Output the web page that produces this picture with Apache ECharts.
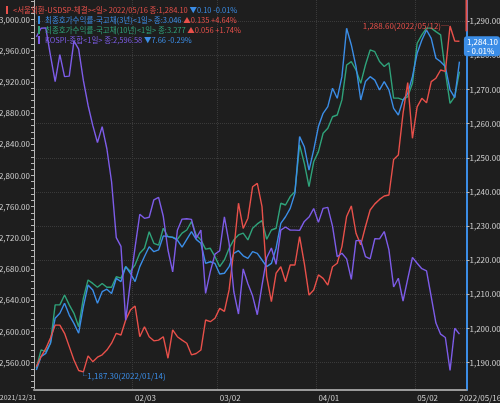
<!DOCTYPE html>
<html>
<head>
<meta charset="utf-8">
<script src="https://cdn.jsdelivr.net/npm/echarts@6/dist/echarts.min.js"></script>
<style>
html, body { margin: 0; padding: 0; background: #1e1e1e; }
#chart { width: 500px; height: 403px; }
</style>
</head>
<body>
<div id="chart"></div>
<script>
// 거래일 (첫 칸은 시작일 표시용)
const dates = [
  '2021/12/31',
  '2022/01/03', '2022/01/04', '2022/01/05', '2022/01/06', '2022/01/07', '2022/01/10', '2022/01/11', '2022/01/12', '2022/01/13', '2022/01/14',
  '2022/01/17', '2022/01/18', '2022/01/19', '2022/01/20', '2022/01/21', '2022/01/24', '2022/01/25', '2022/01/26', '2022/01/27', '2022/01/28',
  '2022/02/03', '2022/02/04', '2022/02/07', '2022/02/08', '2022/02/09', '2022/02/10', '2022/02/11', '2022/02/14', '2022/02/15', '2022/02/16',
  '2022/02/17', '2022/02/18', '2022/02/21', '2022/02/22', '2022/02/23', '2022/02/24', '2022/02/25', '2022/02/28',
  '2022/03/02', '2022/03/03', '2022/03/04', '2022/03/07', '2022/03/08', '2022/03/10', '2022/03/11', '2022/03/14', '2022/03/15', '2022/03/16',
  '2022/03/17', '2022/03/18', '2022/03/21', '2022/03/22', '2022/03/23', '2022/03/24', '2022/03/25', '2022/03/28', '2022/03/29', '2022/03/30', '2022/03/31',
  '2022/04/01', '2022/04/04', '2022/04/05', '2022/04/06', '2022/04/07', '2022/04/08', '2022/04/11', '2022/04/12', '2022/04/13', '2022/04/14',
  '2022/04/15', '2022/04/18', '2022/04/19', '2022/04/20', '2022/04/21', '2022/04/22', '2022/04/25', '2022/04/26', '2022/04/27', '2022/04/28', '2022/04/29',
  '2022/05/02', '2022/05/03', '2022/05/04', '2022/05/06', '2022/05/09', '2022/05/10', '2022/05/11', '2022/05/12', '2022/05/13', '2022/05/16'
]

// 서울외환 USD/KRW
const usdkrw = [
  1188.8,
  1191.8, 1194.1, 1197.2, 1201.0, 1201.0, 1198.6, 1194.7, 1190.8, 1187.7, 1187.3,
  1192.0, 1190.3, 1191.6, 1192.3, 1193.7, 1195.7, 1198.6, 1198.1, 1202.5, 1205.4,
  1206.6, 1197.6, 1200.5, 1197.6, 1196.4, 1196.6, 1197.6, 1191.3, 1199.6, 1197.6,
  1196.6, 1195.7, 1192.3, 1192.7, 1193.7, 1202.5, 1202.0, 1203.0,
  1205.9, 1205.0, 1211.3, 1223.0, 1236.7, 1229.3, 1232.3, 1241.5, 1242.5, 1235.7,
  1215.2, 1207.9, 1216.2, 1218.1, 1213.7, 1218.6, 1218.6, 1226.9, 1219.1, 1209.8, 1211.3,
  1215.7, 1214.7, 1212.7, 1218.1, 1219.1, 1224.0, 1232.8, 1235.9, 1227.9, 1224.5,
  1229.8, 1234.7, 1236.5, 1237.8, 1238.8, 1239.1, 1249.5, 1250.8, 1263.0, 1272.0, 1255.7,
  1264.9, 1267.4, 1266.1, 1272.3, 1273.3, 1275.7, 1275.3, 1288.6, 1284.2, 1284.1
]

// 국고채 3년
const ktb3y = [
  1.791,
  1.846, 1.859, 1.900, 2.002, 2.022, 2.063, 2.015, 1.981, 1.941, 2.049,
  2.137, 2.117, 2.063, 2.110, 2.120, 2.103, 2.164, 2.151, 2.212, 2.185,
  2.151, 2.212, 2.253, 2.293, 2.273, 2.280, 2.337, 2.334, 2.331, 2.320,
  2.291, 2.323, 2.354, 2.323, 2.307, 2.225, 2.232, 2.225,
  2.182, 2.185, 2.212, 2.266, 2.277, 2.256, 2.246, 2.273, 2.266, 2.239,
  2.212, 2.225, 2.287, 2.388, 2.415, 2.449, 2.510, 2.741, 2.700, 2.605, 2.687,
  2.782, 2.836, 2.863, 2.938, 2.897, 2.985, 3.182, 3.114, 3.026, 2.890,
  2.965, 2.985, 2.971, 2.931, 2.965, 2.931, 2.856, 2.829, 2.890, 2.917, 2.985,
  3.080, 3.134, 3.175, 3.141, 3.060, 3.046, 3.026, 2.931, 2.900, 3.046
]

// 국고채 10년
const ktb10y = [
  2.256,
  2.319, 2.313, 2.342, 2.474, 2.474, 2.508, 2.474, 2.445, 2.399, 2.497,
  2.560, 2.548, 2.535, 2.548, 2.535, 2.535, 2.571, 2.566, 2.606, 2.589,
  2.612, 2.652, 2.669, 2.726, 2.686, 2.680, 2.738, 2.709, 2.707, 2.700,
  2.721, 2.732, 2.761, 2.715, 2.698, 2.666, 2.669, 2.640,
  2.606, 2.629, 2.669, 2.698, 2.715, 2.721, 2.698, 2.738, 2.753, 2.764,
  2.700, 2.732, 2.738, 2.824, 2.818, 2.847, 2.864, 3.025, 2.962, 2.881, 2.967,
  3.002, 3.065, 3.082, 3.122, 3.128, 3.180, 3.300, 3.312, 3.283, 3.237,
  3.300, 3.352, 3.346, 3.312, 3.295, 3.308, 3.186, 3.186, 3.180, 3.191, 3.237,
  3.375, 3.404, 3.427, 3.427, 3.415, 3.404, 3.277, 3.168, 3.191, 3.277
]

// KOSPI 종합
const kospi = [
  2977.7,
  2988.8, 2989.2, 2954.0, 2920.5, 2954.9, 2926.7, 2927.4, 2972.5, 2962.1, 2921.9,
  2890.1, 2864.2, 2842.3, 2862.7, 2834.3, 2792.0, 2720.4, 2709.2, 2614.5, 2663.3,
  2707.8, 2750.3, 2745.1, 2746.5, 2768.9, 2771.9, 2747.7, 2704.5, 2676.5, 2729.7,
  2744.1, 2744.5, 2743.8, 2719.5, 2730.0, 2648.8, 2676.8, 2699.2,
  2703.5, 2747.1, 2713.4, 2651.3, 2622.4, 2680.3, 2661.3, 2645.7, 2621.5, 2659.2,
  2694.5, 2707.0, 2686.1, 2730.0, 2734.0, 2730.0, 2730.0, 2729.6, 2741.1, 2746.7, 2757.7,
  2739.9, 2757.9, 2759.2, 2735.0, 2695.9, 2700.4, 2693.1, 2666.8, 2716.5, 2716.7,
  2696.1, 2693.2, 2718.9, 2718.7, 2728.2, 2704.7, 2657.1, 2668.3, 2639.1, 2667.5, 2695.1,
  2687.5, 2680.5, 2677.6, 2644.5, 2610.8, 2596.6, 2592.3, 2550.1, 2604.2, 2596.58
]

// 범례 문구 / 전일대비
const seriesNames = ['<서울외환-USDSP-체결><일>', '최종호가수익률-국고채(3년)<1일>', '최종호가수익률-국고채(10년)<1일>', 'KOSPI-종합<1일>']
const changes = [-0.10, 0.135, 0.056, -7.66]
const changePct = [-0.01, 4.64, 1.74, -0.29]
const decimals = [2, 3, 3, 2]

// 축 눈금
const kospiTicks = [2560, 2600, 2640, 2680, 2720, 2760, 2800, 2840, 2880, 2920, 2960, 3000]
const usdTicks = [1190, 1200, 1210, 1220, 1230, 1240, 1250, 1260, 1270, 1280, 1290]

const colors = ['#e8504a', '#3b8de6', '#2fa27a', '#7d5ce8']
const fontStack = '"Noto Sans CJK KR", "Noto Sans", sans-serif'
const gridLeft = 34
const gridRight = 33.5
const lastIdx = dates.length - 1

function fmtNum (v, d) {
  return v.toLocaleString('en-US', { minimumFractionDigits: d, maximumFractionDigits: d })
}

// 월 첫 거래일, 주 첫 거래일
const dayOf = dates.map(d => new Date(d.replace(/\//g, '-') + 'T00:00:00Z'))
const monthStart = dates.map((d, i) => i > 1 && d.slice(5, 7) !== dates[i - 1].slice(5, 7))
const weekStart = dates.map((d, i) => i === 0 ||
  dayOf[i].getUTCDay() <= dayOf[i - 1].getUTCDay() ||
  (dayOf[i] - dayOf[i - 1]) >= 7 * 86400000)

const kospiMinor = []
for (let v = 2528; v <= 3024; v += 8) kospiMinor.push(v)

const allData = [usdkrw, ktb3y, ktb10y, kospi]
const maxIdx = usdkrw.indexOf(Math.max(...usdkrw))
const minIdx = usdkrw.indexOf(Math.min(...usdkrw))

function legendText (name) {
  const k = seriesNames.indexOf(name)
  const last = allData[k][lastIdx]
  const up = changes[k] > 0
  const tag = up ? 'up' : 'dn'
  const arrow = up ? '▲' : '▼'
  const sign = up ? '+' : '-'
  const head = k === 0 ? name + ' ' + dates[lastIdx] : name
  return head + ' 종:' + fmtNum(last, decimals[k]) + ' {' + tag + '|' + arrow +
    fmtNum(Math.abs(changes[k]), decimals[k]) + ' ' + sign + Math.abs(changePct[k]).toFixed(2) + '%}'
}

const legendBase = {
  orient: 'vertical',
  icon: 'rect',
  itemWidth: 2,
  itemHeight: 8,
  itemGap: 0,
  selectedMode: false,
  formatter: legendText,
  textStyle: {
    fontFamily: fontStack,
    fontSize: 7.5,
    lineHeight: 10,
    rich: {
      up: { color: '#e8504a', fontFamily: fontStack, fontSize: 7.5 },
      dn: { color: '#3b8de6', fontFamily: fontStack, fontSize: 7.5 }
    }
  }
}

const chart = echarts.init(document.getElementById('chart'))
chart.setOption({
  backgroundColor: '#1e1e1e',
  animation: false,
  grid: {
    left: gridLeft,
    right: gridRight,
    top: 0,
    bottom: 13,
    containLabel: false,
    outerBoundsMode: 'none'
  },
  legend: [
    Object.assign({}, legendBase, {
      left: 1,
      top: 0,
      data: [{ name: seriesNames[0], textStyle: { color: colors[0] } }]
    }),
    Object.assign({}, legendBase, {
      left: 33,
      top: 10,
      data: seriesNames.slice(1).map((n, k) => ({ name: n, textStyle: { color: colors[k + 1] } }))
    })
  ],
  xAxis: {
    type: 'category',
    boundaryGap: true,
    data: dates.concat(['']),
    axisLine: { lineStyle: { color: '#9a9a9a', width: 2 } },
    axisTick: {
      length: 3,
      interval: (i) => i < dates.length && (weekStart[i] || monthStart[i]),
      lineStyle: { color: '#9a9a9a' }
    },
    axisLabel: {
      interval: (i) => i === 0 || i === lastIdx || monthStart[i] === true,
      formatter: (v, i) => i === 0 ? '{s|' + v + '}' : (i === lastIdx ? v : v.slice(5)),
      align: 'left',
      alignMinLabel: 'right',
      margin: 4,
      color: '#cfcfcf',
      fontSize: 8,
      fontFamily: fontStack,
      rich: {
        s: { color: '#cfcfcf', fontSize: 7, fontFamily: fontStack }
      }
    },
    splitLine: {
      show: true,
      interval: (i) => monthStart[i] === true,
      lineStyle: { color: '#3a3a3a', type: 'dotted' }
    }
  },
  yAxis: [
    {
      type: 'value',
      position: 'left',
      min: 2525,
      max: 3025,
      axisLine: { show: true, lineStyle: { color: '#b5b5b5' } },
      axisTick: { show: true, length: 3, customValues: kospiMinor, lineStyle: { color: '#b5b5b5' } },
      axisLabel: {
        customValues: kospiTicks,
        formatter: v => fmtNum(v, 2),
        margin: 4,
        color: '#cfcfcf',
        fontSize: 8,
        fontFamily: fontStack
      },
      splitLine: { show: false }
    },
    {
      type: 'value',
      position: 'right',
      min: 1182,
      max: 1296.2,
      axisLine: { show: true, lineStyle: { color: '#3b8de6', width: 2 } },
      axisTick: { show: true, length: 3, customValues: usdTicks, lineStyle: { color: '#b5b5b5' } },
      axisLabel: {
        customValues: usdTicks,
        formatter: v => fmtNum(v, 2),
        margin: 3,
        color: '#cfcfcf',
        fontSize: 8,
        fontFamily: fontStack
      },
      splitLine: { show: true, lineStyle: { color: '#3a3a3a', type: 'dotted' } },
      // 현재가 표시
      axisPointer: {
        show: true,
        type: 'none',
        status: 'show',
        value: usdkrw[lastIdx],
        triggerTooltip: false,
        label: {
          show: true,
          margin: 0,
          formatter: () => fmtNum(usdkrw[lastIdx], 2) + '\n- ' + Math.abs(changePct[0]).toFixed(2) + '%',
          backgroundColor: '#3b8de6',
          color: '#ffffff',
          fontSize: 8,
          lineHeight: 9,
          padding: [1, 2, 1, 3],
          fontFamily: fontStack
        }
      }
    },
    { type: 'value', show: false, min: 1.710, max: 3.297 },
    { type: 'value', show: false, min: 2.181, max: 3.524 }
  ],
  series: [
    {
      name: seriesNames[2],
      type: 'line',
      yAxisIndex: 3,
      data: ktb10y,
      symbol: 'none',
      color: colors[2],
      lineStyle: { width: 1.4 }
    },
    {
      name: seriesNames[1],
      type: 'line',
      yAxisIndex: 2,
      data: ktb3y,
      symbol: 'none',
      color: colors[1],
      lineStyle: { width: 1.4 }
    },
    {
      name: seriesNames[0],
      type: 'line',
      yAxisIndex: 1,
      data: usdkrw,
      symbol: 'none',
      color: colors[0],
      lineStyle: { width: 1.4 },
      markPoint: {
        symbol: 'circle',
        symbolSize: 0,
        data: [
          {
            coord: [dates[maxIdx], usdkrw[maxIdx]],
            label: {
              show: true,
              position: 'left',
              distance: 1,
              formatter: () => fmtNum(usdkrw[maxIdx], 2) + '(' + dates[maxIdx] + ')─',
              color: '#e8504a',
              fontSize: 8,
              fontFamily: fontStack
            }
          },
          {
            coord: [dates[minIdx], usdkrw[minIdx]],
            label: {
              show: true,
              position: 'bottom',
              align: 'left',
              distance: 0,
              offset: [-4, 0],
              formatter: () => '└' + fmtNum(usdkrw[minIdx], 2) + '(' + dates[minIdx] + ')',
              color: '#3b8de6',
              fontSize: 8,
              fontFamily: fontStack
            }
          }
        ]
      }
    },
    {
      name: seriesNames[3],
      type: 'line',
      yAxisIndex: 0,
      data: kospi,
      symbol: 'none',
      color: colors[3],
      lineStyle: { width: 1.4 }
    }
  ]
})

// 오른쪽 축 위쪽 빨간 구간 (현재가 표시 위)
const tagY = chart.convertToPixel({ yAxisIndex: 1 }, usdkrw[lastIdx])
const axisX = 500 - gridRight
chart.setOption({
  graphic: [{
    type: 'line',
    shape: { x1: axisX, y1: 0, x2: axisX, y2: tagY - 10 },
    style: { stroke: '#e8504a', lineWidth: 2 },
    z: 10
  }]
})
</script>
</body>
</html>
